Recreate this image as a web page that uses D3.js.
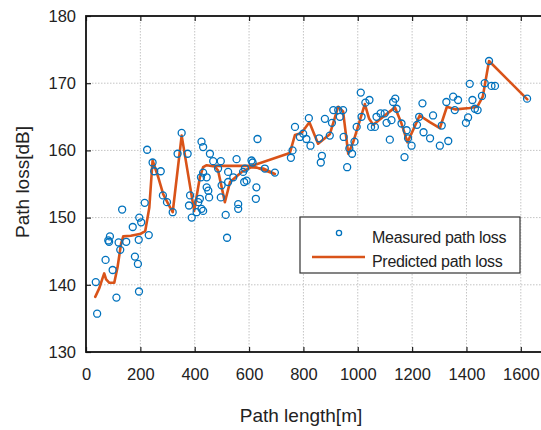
<!DOCTYPE html>
<html>
<head>
<meta charset="utf-8">
<script src="https://cdn.jsdelivr.net/npm/d3@7"></script>
<style>
  html, body { margin: 0; padding: 0; background: #fff; }
  svg { display: block; font-family: "Liberation Sans", Arial, sans-serif; }
</style>
</head>
<body>
<svg id="chart" width="541" height="430"></svg>
<script>
// ---------- data ----------
const xTickValues = [0, 200, 400, 600, 800, 1000, 1200, 1400, 1600];
const yTickValues = [130, 140, 150, 160, 170, 180];

const measuredX = [
  36, 41, 72, 82, 85, 88, 98, 112, 120, 126, 133, 148, 172, 180, 191, 194, 195, 196, 203, 216, 225, 231, 245, 251,
  275, 283, 298, 319, 337, 352, 374, 379, 383, 389, 407, 413, 419, 425, 431,
  425, 431, 423, 431, 444, 444, 450, 453, 456, 468, 486, 496, 496, 499, 514, 519, 523, 523, 542, 554, 560, 560, 578, 582, 591, 585, 609, 613, 625, 627, 631, 658, 695,
  754, 760, 769, 787, 799, 811, 820, 826, 858, 864, 868, 879, 897, 905, 910, 928, 934, 946, 948, 961, 969, 979, 988, 996,
  1011, 1014, 1028, 1043, 1049, 1063, 1069, 1084, 1099, 1106, 1118, 1124, 1130, 1138, 1143, 1161, 1172, 1180, 1185, 1198, 1218, 1226, 1238, 1242,
  1266, 1277, 1302, 1309, 1326, 1333, 1351, 1357, 1369, 1398, 1406, 1412, 1422, 1431, 1441, 1457, 1467, 1483, 1492, 1505, 1623
];
const measuredY = [
  140.4, 135.7, 143.7, 146.6, 146.4, 147.2, 142.2, 138.1, 146.3, 145.2, 151.2, 146.4, 148.6, 144.2, 143.1, 146.7, 139.0, 150.0, 149.3, 152.2, 160.1, 147.4, 158.2, 156.9,
  156.9, 153.3, 152.3, 150.8, 159.5, 162.6, 159.5, 151.8, 153.3, 150.0, 150.8, 152.3, 152.8, 151.3, 151.0,
  161.3, 160.5, 156.0, 156.7, 156.0, 154.5, 154.0, 153.0, 159.5, 158.4, 157.3, 158.4, 153.0, 154.8, 150.4, 147.0, 155.3, 156.8, 156.0, 158.7, 152.0, 151.3, 156.8, 155.3, 155.5, 157.3, 158.5, 158.2, 152.8, 154.5, 161.7, 157.3, 156.7,
  158.9, 160.0, 163.5, 162.0, 162.5, 161.7, 164.8, 160.7, 161.8, 158.2, 159.2, 164.7, 162.2, 164.1, 166.0, 166.0, 165.0, 166.0, 162.0, 157.5, 160.3, 159.5, 161.3, 163.5,
  168.6, 165.0, 167.1, 167.5, 163.5, 163.5, 165.0, 165.5, 165.5, 164.1, 161.6, 164.5, 167.2, 167.7, 166.2, 164.0, 159.0, 163.0, 161.8, 160.7, 163.8, 165.0, 167.0, 162.7,
  161.8, 165.2, 160.7, 163.7, 167.2, 161.4, 168.0, 166.0, 167.5, 164.1, 164.9, 169.9, 167.5, 166.2, 166.0, 168.1, 170.0, 173.3, 169.6, 169.6, 167.7
];

const predictedX = [
  34, 49, 61, 67, 74, 86, 104, 116, 129, 137, 165, 202, 218, 233, 245, 266, 284, 303, 319, 352, 398, 419, 431, 444, 474, 486, 511, 530, 573, 609, 652, 695,
  609, 474, 609, 750, 769, 793, 822, 854, 897, 928, 946, 965, 983, 1026, 1042, 1057, 1081, 1137, 1161, 1183, 1228, 1265, 1302, 1328, 1360, 1412, 1440, 1460, 1483, 1624
];
const predictedY = [
  138.2, 139.5, 141.0, 141.7, 140.8, 140.3, 140.3, 142.6, 146.1, 147.2, 147.3, 147.6, 148.0, 151.5, 158.5, 156.0, 153.5, 152.0, 150.8, 162.2, 151.0, 156.0, 157.5, 157.8, 157.6, 157.0, 152.3, 155.3, 156.8, 157.5, 157.3, 156.5,
  157.7, 157.7, 157.7, 159.6, 162.3, 162.6, 164.2, 161.0, 162.4, 166.5, 165.8, 159.5, 161.2, 166.9, 164.7, 163.8, 164.6, 166.4, 164.0, 161.2, 165.2, 164.2, 163.3, 166.5, 166.1, 166.3, 166.5, 168.0, 173.3, 167.6
];

const legendLabels = ["Measured path loss", "Predicted path loss"];
const xTitle = "Path length[m]";
const yTitle = "Path loss[dB]";

// ---------- drawing ----------
(function () {
const blue = "#0072BD", orange = "#D95319";
const svg = d3.select("#chart");
const pL = 86, pR = 548, pT = 16, pB = 352;

const x = d3.scaleLinear().domain([0, 1700]).range([pL, pR]);
const y = d3.scaleLinear().domain([130, 180]).range([pB, pT]);

// grid
const grid = svg.append("g").attr("stroke", "#c4c4c4").attr("stroke-width", 1).attr("stroke-dasharray", "1.5,1.5");
grid.selectAll("line.gx").data(xTickValues.filter(v => v > 0)).join("line").attr("class", "gx")
  .attr("x1", d => x(d)).attr("x2", d => x(d)).attr("y1", pT).attr("y2", pB);
grid.selectAll("line.gy").data(yTickValues.filter(v => v > 130 && v < 180)).join("line").attr("class", "gy")
  .attr("x1", pL).attr("x2", pR).attr("y1", d => y(d)).attr("y2", d => y(d));

// predicted line
const pts = predictedX.map((d, i) => [d, predictedY[i]]);
svg.append("path")
  .attr("d", d3.line().x(d => x(d[0])).y(d => y(d[1]))(pts))
  .attr("fill", "none").attr("stroke", orange).attr("stroke-width", 2.6)
  .attr("stroke-linejoin", "round").attr("stroke-linecap", "round");

// measured points
svg.append("g").selectAll("circle").data(measuredX.map((d, i) => [d, measuredY[i]])).join("circle")
  .attr("cx", d => x(d[0])).attr("cy", d => y(d[1])).attr("r", 3.5)
  .attr("fill", "none").attr("stroke", blue).attr("stroke-width", 1.3);

// axes
const fs = "16.5px";
const gx = svg.append("g").attr("transform", `translate(0,${pB})`)
  .call(d3.axisBottom(x).tickValues(xTickValues).tickFormat(d3.format("d")).tickSize(-5).tickSizeOuter(0).tickPadding(16));
const gxt = svg.append("g").attr("transform", `translate(0,${pT})`)
  .call(d3.axisTop(x).tickValues(xTickValues).tickFormat("").tickSize(-5).tickSizeOuter(0));
const gy = svg.append("g").attr("transform", `translate(${pL},0)`)
  .call(d3.axisLeft(y).tickValues(yTickValues).tickSize(-5).tickSizeOuter(0).tickPadding(10));
[gx, gxt, gy].forEach(g => {
  g.select(".domain").remove();
  g.selectAll(".tick line").attr("stroke", "#222").attr("stroke-width", 1.2);
  g.selectAll("text").attr("fill", "#222").style("font-size", fs).style("font-family", "Liberation Sans, Arial, sans-serif");
});

// box
svg.append("rect").attr("x", pL).attr("y", pT).attr("width", pR - pL).attr("height", pB - pT)
  .attr("fill", "none").attr("stroke", "#111").attr("stroke-width", 1.8);

// titles
svg.append("text").attr("x", 301).attr("y", 422).attr("text-anchor", "middle")
  .attr("fill", "#222").style("font-size", "19px").text(xTitle);
svg.append("text").attr("transform", "translate(29,182) rotate(-90)").attr("text-anchor", "middle")
  .attr("fill", "#222").style("font-size", "19px").text(yTitle);

// legend
const lg = svg.append("g");
lg.append("rect").attr("x", 300).attr("y", 217).attr("width", 220).attr("height", 56)
  .attr("fill", "#fff").attr("stroke", "#333").attr("stroke-width", 1.2);
lg.append("circle").attr("cx", 339).attr("cy", 233).attr("r", 2.6)
  .attr("fill", "none").attr("stroke", blue).attr("stroke-width", 1.3);
lg.append("line").attr("x1", 312).attr("x2", 365).attr("y1", 257).attr("y2", 257)
  .attr("stroke", orange).attr("stroke-width", 2.6);
lg.selectAll("text").data(legendLabels).join("text")
  .attr("x", 372).attr("y", (d, i) => 243 + i * 24)
  .attr("fill", "#222").style("font-size", "16px").style("letter-spacing", "-0.3px").text(d => d);
})();
</script>
</body>
</html>
